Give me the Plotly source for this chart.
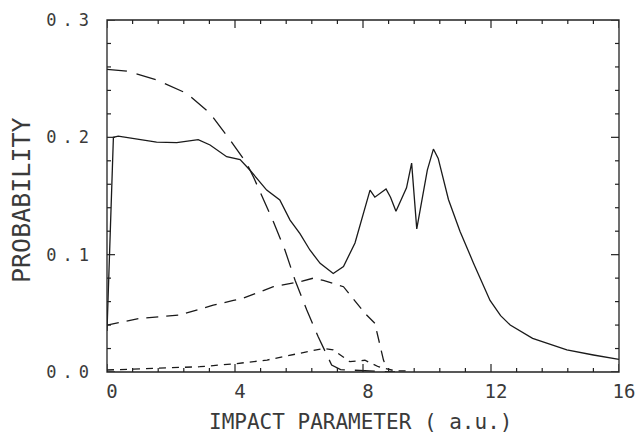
import plotly.graph_objects as go

# Solid curve
solid_x = [0.0, 0.2, 0.35, 0.9, 1.55, 2.18, 2.85, 3.22, 3.74, 4.16, 4.47, 4.99, 5.4, 5.72, 6.03, 6.34,
           6.66, 7.07, 7.39, 7.75, 8.17, 8.22, 8.37, 8.72, 8.86, 9.03, 9.36, 9.52, 9.68, 10.01, 10.2,
           10.35, 10.67, 11.03, 11.45, 11.97, 12.3, 12.6, 13.3, 14.37, 15.2, 16.0]
solid_y = [0.035, 0.200, 0.201, 0.199, 0.196, 0.1955, 0.198, 0.1935, 0.1835, 0.181, 0.172, 0.155,
           0.1466, 0.1295, 0.118, 0.104, 0.0926, 0.084, 0.0898, 0.110, 0.150, 0.155, 0.149, 0.156,
           0.149, 0.137, 0.157, 0.178, 0.122, 0.172, 0.190, 0.182, 0.147, 0.120, 0.093, 0.061, 0.048,
           0.040, 0.0287, 0.0188, 0.0145, 0.0108]

long_x = [0.0, 0.62, 1.55, 2.49, 3.22, 3.84, 4.36, 4.58, 5.2, 5.56, 5.88, 6.24, 6.6, 7.02, 7.3, 8.0, 9.0]
long_y = [0.258, 0.2565, 0.249, 0.2375, 0.2205, 0.198, 0.178, 0.166, 0.128, 0.104, 0.078, 0.053,
          0.030, 0.006, 0.002, 0.001, 0.0]

med_x = [0.0, 1.03, 2.28, 3.32, 3.95, 4.26, 5.2, 6.03, 6.45, 6.76, 7.39, 8.06, 8.37, 8.64, 8.75]
med_y = [0.040, 0.0457, 0.0486, 0.057, 0.061, 0.063, 0.0727, 0.077, 0.080, 0.078, 0.0727, 0.050,
         0.0415, 0.0102, 0.002]

short_x = [0.0, 1.5, 2.9, 4.0, 5.0, 6.03, 6.76, 7.07, 7.59, 8.06, 8.48, 9.0, 9.5]
short_y = [0.0017, 0.003, 0.0045, 0.007, 0.0102, 0.016, 0.020, 0.0188, 0.0088, 0.010, 0.0045, 0.001, 0.001]

x_ticks = [0, 4, 8, 12, 16]
x_tick_text = ["0", "4", "8", "12", "16"]
y_ticks = [0.0, 0.1, 0.2, 0.3]
y_tick_text = ["0.0", "0.1", "0.2", "0.3"]
x_range = [0, 16]
y_range = [0, 0.3]
x_minor = [round(0.8 * i, 2) for i in range(21)]
y_minor = [round(0.02 * i, 3) for i in range(16)]

ink = "#1a1a1a"
frame = "#222222"
txt = "#3a3a3a"
fig = go.Figure()
fig.add_trace(go.Scatter(x=solid_x, y=solid_y, mode="lines", line=dict(color=ink, width=1.3)))
fig.add_trace(go.Scatter(x=long_x, y=long_y, mode="lines", line=dict(color=ink, width=1.3, dash="20px,10px")))
fig.add_trace(go.Scatter(x=med_x, y=med_y, mode="lines", line=dict(color=ink, width=1.3, dash="12px,8px")))
fig.add_trace(go.Scatter(x=short_x, y=short_y, mode="lines", line=dict(color=ink, width=1.3, dash="7px,6px")))

# Frame
fig.add_shape(type="rect", xref="paper", yref="paper", x0=0, x1=1, y0=0, y1=1,
              line=dict(color=frame, width=1.3), layer="above")

# Inward ticks on all four sides, positioned in data units, length in pixels
def add_xtick(xv, length):
    for yanchor, sign in ((y_range[0], 1), (y_range[1], -1)):
        fig.add_shape(type="line", xref="x", yref="y", x0=xv, x1=xv,
                      ysizemode="pixel", yanchor=yanchor, y0=0, y1=sign * length,
                      line=dict(color=frame, width=1.2), layer="above")

def add_ytick(yv, length):
    for xanchor, sign in ((x_range[0], 1), (x_range[1], -1)):
        fig.add_shape(type="line", xref="x", yref="y", y0=yv, y1=yv,
                      xsizemode="pixel", xanchor=xanchor, x0=0, x1=sign * length,
                      line=dict(color=frame, width=1.2), layer="above")

for v in x_minor:
    add_xtick(v, 8 if v in x_ticks else 4)
for v in y_minor:
    add_ytick(v, 8 if any(abs(v - t) < 1e-9 for t in y_ticks) else 4)

fig.update_layout(
    width=636, height=434, margin=dict(l=107, r=17, t=20, b=62, autoexpand=False),
    paper_bgcolor="white", plot_bgcolor="white", showlegend=False,
    xaxis=dict(range=x_range, tickmode="array", tickvals=x_ticks, ticktext=x_tick_text, automargin=False,
               showgrid=False, zeroline=False, showline=False, ticks="",
               tickfont=dict(family="DejaVu Sans Mono", size=19, color=txt),
               ticklabelstandoff=6, ticklabelshift=5),
    yaxis=dict(range=y_range, tickmode="array", tickvals=y_ticks, automargin=False,
               ticktext=['<span style="letter-spacing:6px">%s</span>' % t for t in y_tick_text],
               showgrid=False, zeroline=False, showline=False, ticks="",
               tickfont=dict(family="DejaVu Sans Mono", size=17, color=txt), ticklabelstandoff=11),
)
fig.add_annotation(text="IMPACT PARAMETER ( a.u.)", xref="paper", yref="paper", x=0.5, y=0,
                   xanchor="center", yanchor="middle", yshift=-50, xshift=-3, showarrow=False,
                   font=dict(family="DejaVu Sans Mono", size=21, color=txt))
fig.add_annotation(text="PROBABILITY", xref="paper", yref="paper", x=0, y=0.5,
                   xanchor="center", yanchor="middle", xshift=-86, yshift=-4, textangle=-90, showarrow=False,
                   font=dict(family="DejaVu Sans Mono", size=25, color=txt))
fig.write_html("out.html")
